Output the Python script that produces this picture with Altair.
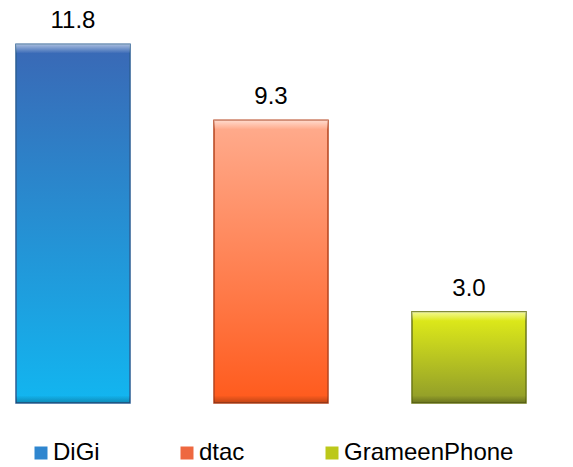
import altair as alt
import pandas as pd

categories = ["DiGi", "dtac", "GrameenPhone"]
values = [11.8, 9.3, 3.0]
labels = ["11.8", "9.3", "3.0"]

legend_colors = ["#2F86CF", "#EE6840", "#BCC81A"]
grad_top = ["#3A68B5", "#FFAC8E", "#E4F018"]
grad_bottom = ["#12B6F0", "#FF5A1C", "#8E9A2A"]
edge_colors = ["#2C5F95", "#B5441E", "#6E7A18"]

df = pd.DataFrame({"cat": categories, "val": values, "label": labels})

x = alt.X("cat:N", sort=categories, axis=None,
          scale=alt.Scale(paddingInner=0.4242, paddingOuter=0.0808))
yscale = alt.Scale(domain=[0, 13.26], nice=False, zero=True)

base = alt.Chart(df)

legend_layer = base.mark_bar().encode(
    x=x,
    y=alt.Y("val:Q", scale=yscale, axis=None),
    color=alt.Color(
        "cat:N",
        sort=categories,
        scale=alt.Scale(domain=categories, range=legend_colors),
        legend=alt.Legend(
            title=None, orient="none", legendX=29, legendY=441,
            direction="horizontal", symbolType="square", symbolSize=169,
            symbolStrokeWidth=0, labelFontSize=24, labelFont="Liberation Sans",
            labelColor="#000000", columnPadding=75, labelOffset=0,
            labelLimit=400, symbolOpacity=1,
        ),
    ),
)

layers = [legend_layer]
for i, c in enumerate(categories):
    g = alt.Gradient(
        gradient="linear",
        stops=[alt.GradientStop(color=grad_top[i], offset=0),
               alt.GradientStop(color=grad_bottom[i], offset=1)],
        x1=0, x2=0, y1=0, y2=1,
    )
    layers.append(
        base.transform_filter(alt.datum.cat == c).mark_bar(
            color=g, stroke=edge_colors[i], strokeWidth=1.5
        ).encode(x=x, y=alt.Y("val:Q", scale=yscale))
    )

hi = alt.Gradient(
    gradient="linear",
    stops=[alt.GradientStop(color="rgba(255,255,255,0.55)", offset=0),
           alt.GradientStop(color="rgba(255,255,255,0.0)", offset=1)],
    x1=0, x2=0, y1=0, y2=1,
)
top_hi = base.transform_calculate(top2="datum.val - 0.3").mark_bar(color=hi).encode(
    x=x, y=alt.Y("val:Q", scale=yscale), y2="top2:Q"
)
sh = alt.Gradient(
    gradient="linear",
    stops=[alt.GradientStop(color="rgba(0,0,0,0.0)", offset=0),
           alt.GradientStop(color="rgba(0,0,0,0.25)", offset=1)],
    x1=0, x2=0, y1=0, y2=1,
)
bot_sh = base.transform_calculate(b0="0", b1="0.25").mark_bar(color=sh).encode(
    x=x, y=alt.Y("b1:Q", scale=yscale), y2="b0:Q"
)
layers += [top_hi, bot_sh]

text = base.mark_text(
    baseline="alphabetic", dy=-16, fontSize=24, font="Liberation Sans", color="#000000"
).encode(x=x, y=alt.Y("val:Q", scale=yscale), text="label:N")
layers.append(text)

chart = alt.layer(*layers).properties(
    width=542, height=403,
    autosize=alt.AutoSizeParams(type="none"),
    padding={"left": 0, "top": 0, "right": 31, "bottom": 64},
).configure_view(stroke=None)

chart.save("out.html", embed_options={"renderer": "svg", "actions": False})
